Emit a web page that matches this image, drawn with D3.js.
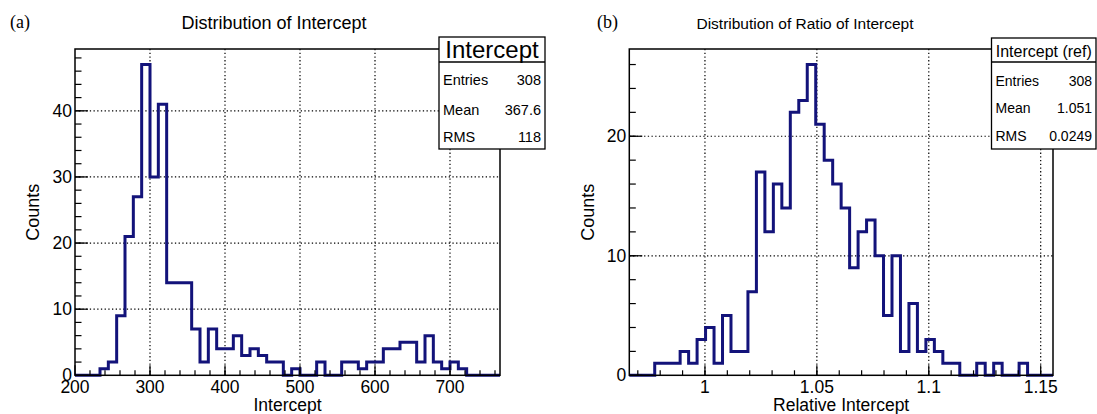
<!DOCTYPE html>
<html>
<head>
<meta charset="utf-8">
<script src="https://cdn.jsdelivr.net/npm/d3@7"></script>
<style>
  body { margin: 0; background: #fff; }
  svg { display: block; }
  text { font-family: "Liberation Sans", Arial, Helvetica, sans-serif; fill: #000; }
</style>
</head>
<body>
<svg id="chart" width="1097" height="414"></svg>
<script>
// ---- Panel (a): intercept distribution, 51 equal bins ----
const interceptRange = [200, 766.667];
const interceptCounts = [0,0,0,1,2,9,21,27,47,30,41,14,14,14,7,2,7,4,4,6,3,4,3,2,2,0,1,0,0,2,0,0,2,2,1,2,2,4,4,5,5,2,6,2,1,2,1,0,0,0,0];
const interceptXTicks = [200, 300, 400, 500, 600, 700];
const interceptYTicks = [0, 10, 20, 30, 40];
const interceptStats = [["Entries", "308"], ["Mean", "367.6"], ["RMS", "118"]];

// ---- Panel (b): ratio of intercept to reference, 50 equal bins ----
const ratioRange = [0.9662, 1.1555];
const ratioCounts = [0,0,0,1,1,1,2,1,3,4,1,5,2,2,7,17,12,16,14,22,23,26,21,18,16,14,9,12,13,10,5,10,2,6,2,3,2,1,1,0,0,1,0,1,0,0,1,0,0,0];
const ratioXTicks = [1, 1.05, 1.1, 1.15];
const ratioXTickLabels = ["1", "1.05", "1.1", "1.15"];
const ratioYTicks = [0, 10, 20];
const ratioStats = [["Entries", "308"], ["Mean", "1.051"], ["RMS", "0.0249"]];

const svg = d3.select("#chart");
const lineColor = "#13137a";

function drawPanel(cfg) {
  const g = svg.append("g");
  const nb = cfg.counts.length;
  const bw = (cfg.range[1] - cfg.range[0]) / nb;
  const x = d3.scaleLinear().domain(cfg.range).range([cfg.left, cfg.right]);
  const yMax = d3.max(cfg.counts) * 1.05;
  const y = d3.scaleLinear().domain([0, yMax]).range([cfg.bottom, cfg.top]);

  // dotted grid at major ticks
  const grid = g.append("g").attr("stroke", "#000").attr("stroke-width", 1.2)
    .attr("stroke-dasharray", "1.3,2.4");
  cfg.xTicks.forEach(v => {
    if (x(v) > cfg.left + 2 && x(v) < cfg.right - 2)
      grid.append("line").attr("x1", x(v)).attr("x2", x(v)).attr("y1", cfg.top).attr("y2", cfg.bottom);
  });
  cfg.yTicks.forEach(v => {
    if (y(v) < cfg.bottom - 2 && y(v) > cfg.top + 2)
      grid.append("line").attr("y1", y(v)).attr("y2", y(v)).attr("x1", cfg.left).attr("x2", cfg.right);
  });

  // histogram outline
  const pts = [[cfg.range[0], 0]];
  cfg.counts.forEach((c, i) => {
    pts.push([cfg.range[0] + i * bw, c]);
    pts.push([cfg.range[0] + (i + 1) * bw, c]);
  });
  pts.push([cfg.range[1], 0]);
  const line = d3.line().x(d => x(d[0])).y(d => y(d[1]));
  g.append("path").attr("d", line(pts)).attr("fill", "none")
    .attr("stroke", lineColor).attr("stroke-width", 3).attr("stroke-linejoin", "miter");

  // frame
  g.append("rect").attr("x", cfg.left).attr("y", cfg.top)
    .attr("width", cfg.right - cfg.left).attr("height", cfg.bottom - cfg.top)
    .attr("fill", "none").attr("stroke", "#000").attr("stroke-width", 1.5);

  // x axis ticks (inward) and labels
  const xt = g.append("g").attr("stroke", "#000").attr("stroke-width", 1.2);
  cfg.xMinor.forEach(v => {
    xt.append("line").attr("x1", x(v)).attr("x2", x(v)).attr("y1", cfg.bottom).attr("y2", cfg.bottom - 5);
  });
  cfg.xTicks.forEach(v => {
    xt.append("line").attr("x1", x(v)).attr("x2", x(v)).attr("y1", cfg.bottom).attr("y2", cfg.bottom - 10);
  });
  cfg.xTicks.forEach((v, i) => {
    g.append("text").attr("x", x(v)).attr("y", cfg.bottom + 17.5).attr("text-anchor", "middle")
      .attr("font-size", 17.5).text(cfg.xTickLabels ? cfg.xTickLabels[i] : v);
  });

  // y axis ticks (inward) and labels
  const yt = g.append("g").attr("stroke", "#000").attr("stroke-width", 1.2);
  cfg.yMinor.forEach(v => {
    yt.append("line").attr("y1", y(v)).attr("y2", y(v)).attr("x1", cfg.left).attr("x2", cfg.left + 6.5);
  });
  cfg.yTicks.forEach(v => {
    yt.append("line").attr("y1", y(v)).attr("y2", y(v)).attr("x1", cfg.left).attr("x2", cfg.left + 13);
  });
  cfg.yTicks.forEach(v => {
    g.append("text").attr("x", cfg.left - 3).attr("y", y(v) + 6).attr("text-anchor", "end")
      .attr("font-size", 17.5).text(v);
  });

  // axis titles
  g.append("text").attr("x", (cfg.left + cfg.right) / 2).attr("y", 411).attr("text-anchor", "middle")
    .attr("font-size", 17.5).text(cfg.xTitle);
  g.append("text").attr("transform", `translate(${cfg.yTitleX},${(cfg.top + cfg.bottom) / 2}) rotate(-90)`)
    .attr("text-anchor", "middle").attr("font-size", 18).text("Counts");

  // panel title and tag
  g.append("text").attr("x", cfg.titleX).attr("y", 29).attr("text-anchor", "middle")
    .attr("font-size", cfg.titleSize).text(cfg.title);
  g.append("text").attr("x", cfg.tagX).attr("y", 28).attr("font-size", 18)
    .style("font-family", '"Liberation Serif", "Times New Roman", serif').text(cfg.tag);

  // statistics box
  const s = cfg.stats;
  const sb = g.append("g");
  sb.append("rect").attr("x", s.x0).attr("y", s.y0).attr("width", s.x1 - s.x0).attr("height", s.y1 - s.y0)
    .attr("fill", "#fff").attr("stroke", "#000").attr("stroke-width", 1.3);
  sb.append("line").attr("x1", s.x0).attr("x2", s.x1).attr("y1", s.div).attr("y2", s.div)
    .attr("stroke", "#000").attr("stroke-width", 1.3);
  sb.append("text").attr("x", (s.x0 + s.x1) / 2).attr("y", s.titleBase).attr("text-anchor", "middle")
    .attr("font-size", s.titleSize).text(s.name);
  cfg.statRows.forEach((r, i) => {
    sb.append("text").attr("x", s.x0 + 4).attr("y", s.rows[i]).attr("font-size", s.rowSize).text(r[0]);
    sb.append("text").attr("x", s.x1 - 4).attr("y", s.rows[i]).attr("text-anchor", "end")
      .attr("font-size", s.rowSize).text(r[1]);
  });
}

drawPanel({
  range: interceptRange, counts: interceptCounts,
  left: 75, right: 500, top: 49, bottom: 375.3,
  xTicks: interceptXTicks, xMinor: d3.range(220, 766, 20),
  yTicks: interceptYTicks, yMinor: d3.range(2, 49, 2),
  xTitle: "Intercept", yTitleX: 39,
  title: "Distribution of Intercept", titleX: 274, titleSize: 18,
  tag: "(a)", tagX: 10,
  statRows: interceptStats,
  stats: { x0: 439, x1: 545, y0: 37, div: 62, y1: 149, name: "Intercept",
           titleSize: 24, titleBase: 58, rowSize: 14.5, rows: [85, 115, 142] }
});

drawPanel({
  range: ratioRange, counts: ratioCounts,
  left: 629.3, right: 1053, top: 49, bottom: 375.3,
  xTicks: ratioXTicks, xTickLabels: ratioXTickLabels, xMinor: d3.range(0.97, 1.155, 0.01),
  yTicks: ratioYTicks, yMinor: d3.range(2, 27.3, 2),
  xTitle: "Relative Intercept", yTitleX: 594,
  title: "Distribution of Ratio of Intercept", titleX: 805, titleSize: 15.5,
  tag: "(b)", tagX: 597,
  statRows: ratioStats,
  stats: { x0: 991.5, x1: 1096, y0: 38, div: 62, y1: 149, name: "Intercept (ref)",
           titleSize: 16, titleBase: 57, rowSize: 14, rows: [86, 113, 141] }
});
</script>
</body>
</html>
